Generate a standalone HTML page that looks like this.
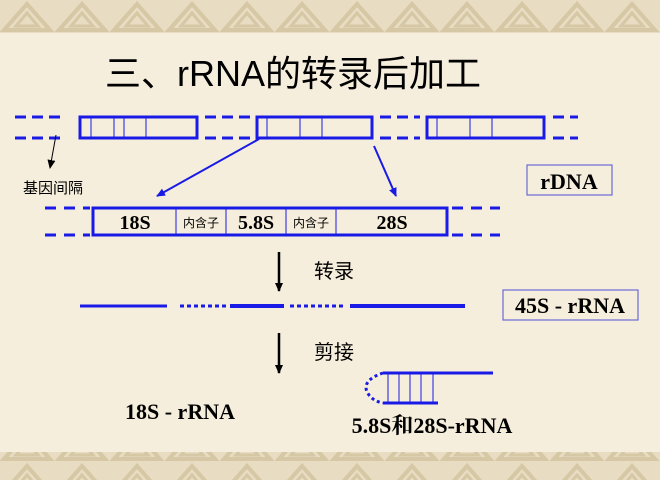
<!DOCTYPE html>
<html><head><meta charset="utf-8"><style>
html,body{margin:0;padding:0;}
body{width:660px;height:480px;overflow:hidden;background:#f6eedc;}
svg{display:block;}
</style></head><body>
<svg width="660" height="480" xmlns="http://www.w3.org/2000/svg">
<defs>
<pattern id="band" width="55" height="33" patternUnits="userSpaceOnUse">
<rect width="55" height="33" fill="#e8dcc2"/>
<path d="M4 30 L27 4 L50 30 Z" fill="none" stroke="#d6c7a5" stroke-width="4"/>
<path d="M16 26 L27 13 L38 26 Z" fill="none" stroke="#d6c7a5" stroke-width="3"/>
</pattern>
<marker id="ab" markerWidth="10" markerHeight="10" refX="8" refY="4" orient="auto" markerUnits="userSpaceOnUse"><path d="M0 0 L9 4 L0 8 Z" fill="#1a1ae6"/></marker>
<marker id="ak" markerWidth="10" markerHeight="10" refX="8" refY="4" orient="auto" markerUnits="userSpaceOnUse"><path d="M0 0 L9 4 L0 8 Z" fill="#000"/></marker>
</defs>
<rect width="660" height="480" fill="#f6eedc"/>
<rect x="0" y="0" width="660" height="33" fill="url(#band)"/>
<rect x="0" y="452" width="660" height="28" fill="url(#band)"/>

<text x="293" y="86" text-anchor="middle" font-family="Liberation Sans, Noto Sans CJK SC, sans-serif" font-size="36" fill="#000">三、rRNA的转录后加工</text>

<g stroke="#1a1ae6" fill="none">
<g stroke-width="3" stroke-dasharray="11,6">
<line x1="15" y1="117" x2="66" y2="117"/><line x1="15" y1="138" x2="66" y2="138"/>
<line x1="205" y1="117" x2="250" y2="117"/><line x1="205" y1="138" x2="250" y2="138"/>
<line x1="380" y1="117" x2="420" y2="117"/><line x1="380" y1="138" x2="420" y2="138"/>
<line x1="553" y1="117" x2="578" y2="117"/><line x1="553" y1="138" x2="578" y2="138"/>
</g>
<g stroke-width="3">
<rect x="80" y="117" width="117" height="21"/>
<rect x="257" y="117" width="115" height="21"/>
<rect x="427" y="117" width="117" height="21"/>
</g>
<g stroke-width="1">
<line x1="91" y1="117" x2="91" y2="138"/><line x1="114" y1="117" x2="114" y2="138"/><line x1="124" y1="117" x2="124" y2="138"/><line x1="146" y1="117" x2="146" y2="138"/>
<line x1="267" y1="117" x2="267" y2="138"/><line x1="300" y1="117" x2="300" y2="138"/><line x1="322" y1="117" x2="322" y2="138"/>
<line x1="437" y1="117" x2="437" y2="138"/><line x1="470" y1="117" x2="470" y2="138"/><line x1="492" y1="117" x2="492" y2="138"/>
</g>
<line x1="259" y1="139" x2="157" y2="196" stroke-width="2" marker-end="url(#ab)"/>
<line x1="374" y1="146" x2="396" y2="196" stroke-width="2" marker-end="url(#ab)"/>

<g stroke-width="3" stroke-dasharray="11,8">
<line x1="45" y1="208" x2="90" y2="208"/><line x1="45" y1="235" x2="90" y2="235"/>
<line x1="452" y1="208" x2="500" y2="208"/><line x1="452" y1="235" x2="500" y2="235"/>
</g>
<rect x="93" y="208" width="354" height="27" stroke-width="3" fill="none"/>
<g stroke-width="1">
<line x1="176" y1="208" x2="176" y2="235"/><line x1="226" y1="208" x2="226" y2="235"/>
<line x1="286" y1="208" x2="286" y2="235"/><line x1="336" y1="208" x2="336" y2="235"/>
</g>

<line x1="80" y1="306" x2="167" y2="306" stroke-width="3"/>
<line x1="180" y1="306" x2="228" y2="306" stroke-width="3" stroke-dasharray="4,3"/>
<line x1="230" y1="306" x2="284" y2="306" stroke-width="4"/>
<line x1="290" y1="306" x2="345" y2="306" stroke-width="3" stroke-dasharray="4,3"/>
<line x1="350" y1="306" x2="465" y2="306" stroke-width="4"/>

<line x1="383" y1="373" x2="493" y2="373" stroke-width="3"/>
<line x1="383" y1="403" x2="438" y2="403" stroke-width="3"/>
<g stroke-width="1">
<line x1="388" y1="373" x2="388" y2="403"/><line x1="399" y1="373" x2="399" y2="403"/><line x1="410" y1="373" x2="410" y2="403"/><line x1="421" y1="373" x2="421" y2="403"/><line x1="433" y1="373" x2="433" y2="403"/>
</g>
<path d="M383 373 Q362 380 367 392 Q372 401 383 403" stroke-width="3" stroke-dasharray="3,3"/>
</g>

<rect x="527" y="165" width="85" height="30" fill="none" stroke="#6a6ad8" stroke-width="1.2"/>
<rect x="503" y="290" width="135" height="30" fill="none" stroke="#6a6ad8" stroke-width="1.2"/>

<line x1="56" y1="135" x2="50" y2="168" stroke="#000" stroke-width="1" marker-end="url(#ak)"/>
<line x1="279" y1="252" x2="279" y2="291" stroke="#000" stroke-width="2.5" marker-end="url(#ak)"/>
<line x1="279" y1="333" x2="279" y2="373" stroke="#000" stroke-width="2.5" marker-end="url(#ak)"/>

<g font-family="Liberation Serif, Noto Serif CJK SC, serif" font-weight="bold" fill="#000">
<text x="569" y="189" text-anchor="middle" font-size="22">rDNA</text>
<text x="570" y="313" text-anchor="middle" font-size="22">45S - rRNA</text>
<text x="135" y="229" text-anchor="middle" font-size="20">18S</text>
<text x="256" y="229" text-anchor="middle" font-size="20">5.8S</text>
<text x="392" y="229" text-anchor="middle" font-size="20">28S</text>
<text x="180" y="419" text-anchor="middle" font-size="22">18S - rRNA</text>
<text x="432" y="433" text-anchor="middle" font-size="22">5.8S和28S-rRNA</text>
</g>
<g font-family="Liberation Sans, Noto Sans CJK SC, sans-serif" fill="#000">
<text x="201" y="227" text-anchor="middle" font-size="12">内含子</text>
<text x="311" y="227" text-anchor="middle" font-size="12">内含子</text>
<text x="23" y="193" font-size="15">基因间隔</text>
<text x="314" y="278" font-size="20">转录</text>
<text x="314" y="359" font-size="20">剪接</text>
</g>
</svg>
</body></html>
